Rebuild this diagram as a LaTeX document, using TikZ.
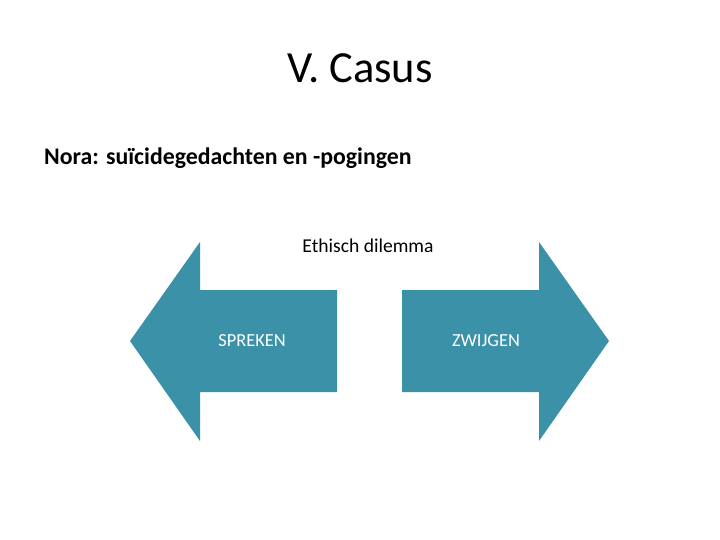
\documentclass[tikz,border=0pt]{standalone}
\usepackage{fontspec}
\setmainfont{Carlito}
\usepackage{xcolor}
\usetikzlibrary{positioning}
\definecolor{arrowteal}{RGB}{58,145,168}
\tikzset{
  title/.style={font=\fontsize{44.5}{52}\selectfont, inner sep=0pt},
  subtitle/.style={font=\bfseries\fontsize{23.8}{28}\selectfont, inner sep=0pt, anchor=west},
  caption/.style={font=\fontsize{19.6}{23}\selectfont, inner sep=0pt},
  arrowlabel/.style={font=\fontsize{18.4}{22}\selectfont, text=white, inner sep=0pt},
  bigarrow/.style={fill=arrowteal, draw=none},
}

\begin{document}
\begin{tikzpicture}[x=1pt, y=-1pt]
\useasboundingbox (0,0) rectangle (720,540);

% Headings
\node[title] (casus) at (360,68) {V. Casus};
\node[subtitle] (nora) at (44,158) {Nora: suïcidegedachten en -pogingen};
\node[caption] (dilemma) at (368,246) {Ethisch dilemma};

% Left arrow
\fill[bigarrow] (130,341) -- (200,242) -- (200,290) -- (337,290) -- (337,392)
  -- (200,392) -- (200,441) -- cycle;
\node[arrowlabel] (spreken) at (252,341) {SPREKEN};

% Right arrow
\fill[bigarrow] (609,341) -- (539,242) -- (539,290) -- (402,290) -- (402,392)
  -- (539,392) -- (539,441) -- cycle;
\node[arrowlabel] (zwijgen) at (486,341) {ZWIJGEN};

\end{tikzpicture}
\end{document}
